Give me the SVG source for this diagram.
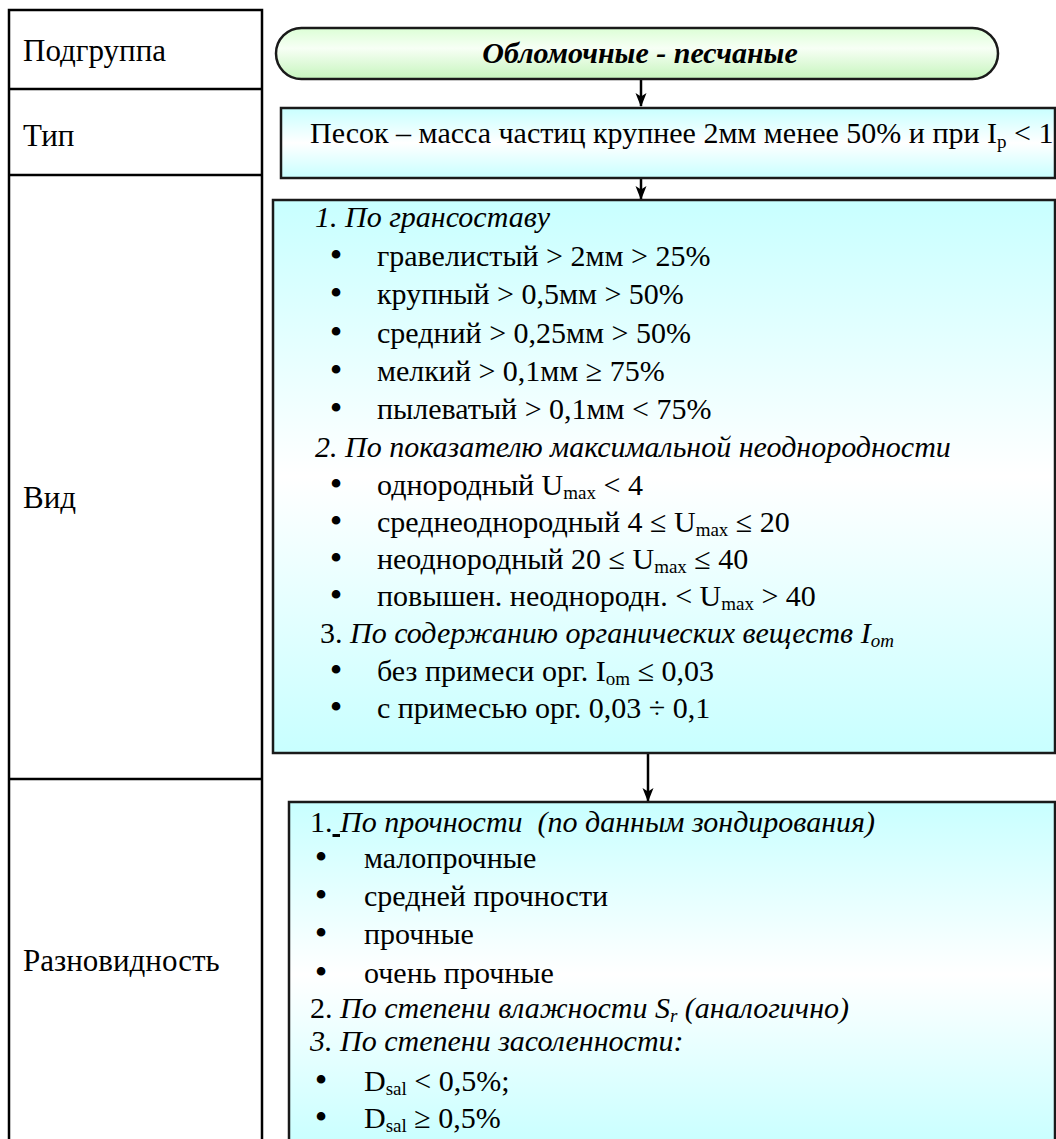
<svg xmlns="http://www.w3.org/2000/svg" width="1056" height="1139" viewBox="0 0 1056 1139">
<defs>
<style>
.t{font-family:"Liberation Serif","Times New Roman",serif;font-size:30px;fill:#000}
.lab{font-family:"Liberation Serif","Times New Roman",serif;font-size:31px;fill:#000}
.bul{font-family:"Liberation Serif","Times New Roman",serif;font-size:36px;fill:#000}
.i{font-style:italic}
.b{font-weight:bold}
.grid{stroke:#000;stroke-width:2.5;fill:none}
.box{stroke:#1a1a1a;stroke-width:2.5}
.conn{stroke:#000;stroke-width:2.5;fill:none}
</style>
<linearGradient id="cyan" x1="0" y1="0" x2="0" y2="1">
<stop offset="0" stop-color="#c8ffff"/>
<stop offset="0.5" stop-color="#ffffff"/>
<stop offset="1" stop-color="#c8ffff"/>
</linearGradient>
<linearGradient id="green" x1="0" y1="0" x2="0" y2="1">
<stop offset="0" stop-color="#dcffd6"/>
<stop offset="0.4" stop-color="#f7fff5"/>
<stop offset="1" stop-color="#c6f5bd"/>
</linearGradient>
<marker id="arr" viewBox="0 0 14 12" refX="13" refY="6" markerWidth="14" markerHeight="12" markerUnits="userSpaceOnUse" orient="auto">
<path d="M0,0.5 L14,6 L0,11.5 L3.5,6 z" fill="#000"/>
</marker>
</defs>
<rect width="1056" height="1139" fill="#fff"/>

<g id="table">
<path class="grid" d="M9,1145 V10 H262 V1145 M9,89 H262 M9,175 H262 M9,779 H262"/>
<text class="lab" x="23" y="61">Подгруппа</text>
<text class="lab" x="23" y="146">Тип</text>
<text class="lab" x="23" y="508">Вид</text>
<text class="lab" x="23" y="971">Разновидность</text>
</g>

<g id="connectors">
<line class="conn" x1="641" y1="79" x2="641" y2="106" marker-end="url(#arr)"/>
<line class="conn" x1="641" y1="178" x2="641" y2="199" marker-end="url(#arr)"/>
<line class="conn" x1="648" y1="753" x2="648" y2="801" marker-end="url(#arr)"/>
</g>

<g id="subgroup">
<rect class="box" x="276" y="28" width="722" height="51" rx="25.5" ry="25.5" fill="url(#green)"/>
<text class="t i b" x="640" y="63" text-anchor="middle">Обломочные - песчаные</text>
</g>

<g id="type">
<rect class="box" x="281" y="108" width="774" height="70" fill="url(#cyan)"/>
<text class="t" x="310" y="143">Песок – масса частиц крупнее 2мм менее 50% и при I<tspan font-size="19" dy="5">p</tspan><tspan dy="-5"> &lt; 1</tspan></text>
</g>

<g id="vid">
<rect class="box" x="273" y="200" width="782" height="553" fill="url(#cyan)"/>
<text class="t i" x="315" y="227">1. По грансоставу</text>
<g class="bul">
<text x="336" y="267" text-anchor="middle">•</text>
<text x="336" y="305" text-anchor="middle">•</text>
<text x="336" y="344" text-anchor="middle">•</text>
<text x="336" y="382" text-anchor="middle">•</text>
<text x="336" y="420" text-anchor="middle">•</text>
<text x="336" y="496" text-anchor="middle">•</text>
<text x="336" y="533" text-anchor="middle">•</text>
<text x="336" y="570" text-anchor="middle">•</text>
<text x="336" y="607" text-anchor="middle">•</text>
<text x="336" y="682" text-anchor="middle">•</text>
<text x="336" y="719" text-anchor="middle">•</text>
</g>
<text class="t" x="377" y="266">гравелистый &gt; 2мм &gt; 25%</text>
<text class="t" x="377" y="304">крупный &gt; 0,5мм &gt; 50%</text>
<text class="t" x="377" y="343">средний &gt; 0,25мм &gt; 50%</text>
<text class="t" x="377" y="381">мелкий &gt; 0,1мм ≥ 75%</text>
<text class="t" x="377" y="419">пылеватый &gt; 0,1мм &lt; 75%</text>
<text class="t i" x="315" y="457">2. По показателю максимальной неоднородности</text>
<text class="t" x="377" y="495">однородный U<tspan font-size="19" dy="4">max</tspan><tspan dy="-4"> &lt; 4</tspan></text>
<text class="t" x="377" y="532">среднеоднородный 4 ≤ U<tspan font-size="19" dy="4">max</tspan><tspan dy="-4"> ≤ 20</tspan></text>
<text class="t" x="377" y="569">неоднородный 20 ≤ U<tspan font-size="19" dy="4">max</tspan><tspan dy="-4"> ≤ 40</tspan></text>
<text class="t" x="377" y="606">повышен. неоднородн. &lt; U<tspan font-size="19" dy="4">max</tspan><tspan dy="-4"> &gt; 40</tspan></text>
<text class="t" x="320" y="643">3. <tspan class="i">По содержанию органических веществ I<tspan font-size="19" dy="4">om</tspan></tspan></text>
<text class="t" x="377" y="681">без примеси орг. I<tspan font-size="19" dy="4">om</tspan><tspan dy="-4"> ≤ 0,03</tspan></text>
<text class="t" x="377" y="718">с примесью орг. 0,03 ÷ 0,1</text>
</g>

<g id="variety">
<rect class="box" x="289" y="802" width="766" height="345" fill="url(#cyan)"/>
<text class="t" x="310" y="832">1.<tspan text-decoration="underline"> </tspan><tspan class="i">По прочности &#160;(по данным зондирования)</tspan></text>
<g class="bul">
<text x="321" y="869" text-anchor="middle">•</text>
<text x="321" y="907" text-anchor="middle">•</text>
<text x="321" y="945" text-anchor="middle">•</text>
<text x="321" y="984" text-anchor="middle">•</text>
<text x="321" y="1092" text-anchor="middle">•</text>
<text x="321" y="1129" text-anchor="middle">•</text>
</g>
<text class="t" x="364" y="868">малопрочные</text>
<text class="t" x="364" y="906">средней прочности</text>
<text class="t" x="364" y="944">прочные</text>
<text class="t" x="364" y="983">очень прочные</text>
<text class="t" x="310" y="1018">2. <tspan class="i">По степени влажности S<tspan font-size="19" dy="4">r</tspan><tspan dy="-4"> (аналогично)</tspan></tspan></text>
<text class="t i" x="310" y="1051">3. По степени засоленности:</text>
<text class="t" x="364" y="1091">D<tspan font-size="19" dy="4">sal</tspan><tspan dy="-4"> &lt; 0,5%;</tspan></text>
<text class="t" x="364" y="1128">D<tspan font-size="19" dy="4">sal</tspan><tspan dy="-4"> ≥ 0,5%</tspan></text>
</g>
</svg>
